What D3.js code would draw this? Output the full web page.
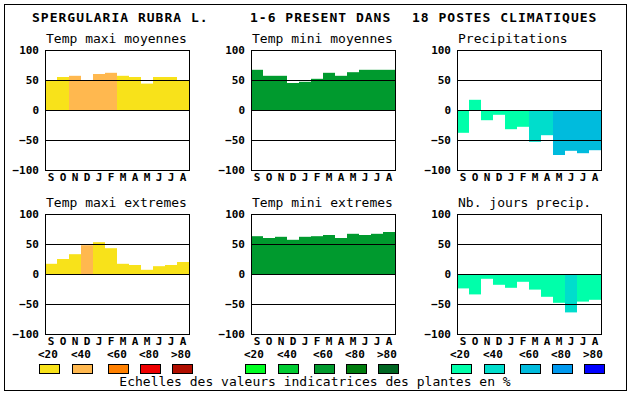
<!DOCTYPE html>
<html>
<head>
<meta charset="utf-8">
<script src="https://cdn.jsdelivr.net/npm/d3@7"></script>
<style>
  body { margin: 0; background: #fff; }
  svg { display: block; }
  text { font-family: "DejaVu Sans Mono", monospace; fill: #000; }
</style>
</head>
<body>
<svg id="chart" width="630" height="394"></svg>
<script>
// month ticks (september -> august)
const months = ["S", "O", "N", "D", "J", "F", "M", "A", "M", "J", "J", "A"];
const yTicks = [100, 50, 0, -50, -100];

// values, class = colour index on the scale below
const tmaxMoy = [50, 55, 57, 50, 60, 62, 57, 55, 44, 55, 55, 50];
const tmaxMoyCls = [0, 0, 1, 1, 1, 1, 0, 0, 0, 0, 0, 0];
const tminMoy = [67, 57, 57, 45, 47, 52, 62, 57, 63, 67, 67, 67];
const tminMoyCls = [2, 2, 2, 2, 2, 2, 2, 2, 2, 2, 2, 2];
const precip = [-38, 17, -17, -8, -32, -28, -53, -42, -75, -68, -72, -67];
const precipCls = [0, 0, 0, 0, 0, 0, 1, 1, 2, 2, 2, 2];
const tmaxExt = [17, 25, 33, 48, 53, 43, 17, 15, 7, 13, 15, 20];
const tmaxExtCls = [0, 0, 0, 1, 0, 0, 0, 0, 0, 0, 0, 0];
const tminExt = [63, 60, 62, 57, 62, 63, 65, 60, 67, 65, 67, 70];
const tminExtCls = [2, 2, 2, 2, 2, 2, 2, 2, 2, 2, 2, 2];
const nbJours = [-24, -34, -8, -18, -23, -13, -26, -38, -48, -64, -46, -43];
const nbJoursCls = [0, 0, 0, 0, 0, 0, 0, 0, 0, 1, 0, 0];

// colour scales
const scaleLabels = ["<20", "<40", "<60", "<80", ">80"];
const warmColors = ["#f8e21a", "#ffb84f", "#ff8000", "#ee0000", "#b00e00"];
const greenColors = ["#00ff22", "#00cc33", "#009a2e", "#007d0e", "#006622"];
const blueColors = ["#00ffaa", "#00ddcc", "#00bbdd", "#0099ee", "#0000ff"];

const svg = d3.select("#chart");

svg.append("rect")
  .attr("x", 4.5).attr("y", 4.5)
  .attr("width", 622).attr("height", 386)
  .attr("fill", "#fff").attr("stroke", "#000");

// main title in three pieces
const titleParts = [
  { x: 32, t: "SPERGULARIA RUBRA L." },
  { x: 250, t: "1-6 PRESENT DANS" },
  { x: 412, t: "18 POSTES CLIMATIQUES" }
];
svg.selectAll(".title")
  .data(titleParts)
  .enter().append("text")
  .attr("class", "title")
  .attr("x", d => d.x)
  .attr("y", 22)
  .style("font-size", "13px")
  .style("font-weight", "bold")
  .style("letter-spacing", "1px")
  .text(d => d.t);

const panelW = 144, panelH = 120;
const colX = [45, 251, 457];
const rowY = [50, 214];

const x = d3.scaleBand().domain(d3.range(12)).range([0, panelW]).padding(0);
const y = d3.scaleLinear().domain([-100, 100]).range([panelH, 0]);

const panels = [
  { title: "Temp maxi moyennes", vals: tmaxMoy, cls: tmaxMoyCls, colors: warmColors, col: 0, row: 0 },
  { title: "Temp mini moyennes", vals: tminMoy, cls: tminMoyCls, colors: greenColors, col: 1, row: 0 },
  { title: "Precipitations", vals: precip, cls: precipCls, colors: blueColors, col: 2, row: 0 },
  { title: "Temp maxi extremes", vals: tmaxExt, cls: tmaxExtCls, colors: warmColors, col: 0, row: 1 },
  { title: "Temp mini extremes", vals: tminExt, cls: tminExtCls, colors: greenColors, col: 1, row: 1 },
  { title: "Nb. jours precip.", vals: nbJours, cls: nbJoursCls, colors: blueColors, col: 2, row: 1 }
];

panels.forEach(p => {
  const g = svg.append("g")
    .attr("transform", "translate(" + colX[p.col] + "," + rowY[p.row] + ")");

  g.append("text")
    .attr("x", 1)
    .attr("y", -7)
    .style("font-size", "13px")
    .text(p.title);

  // bars
  g.selectAll(".bar")
    .data(p.vals)
    .enter().append("rect")
    .attr("class", "bar")
    .attr("x", (d, i) => x(i))
    .attr("width", x.bandwidth())
    .attr("y", d => y(Math.max(0, d)))
    .attr("height", d => Math.abs(y(d) - y(0)))
    .attr("fill", (d, i) => p.colors[p.cls[i]]);

  // gridlines at 50, 0, -50
  g.selectAll(".grid")
    .data([50, 0, -50])
    .enter().append("line")
    .attr("x1", 0).attr("x2", panelW)
    .attr("y1", d => Math.round(y(d)) + 0.5)
    .attr("y2", d => Math.round(y(d)) + 0.5)
    .attr("stroke", "#000");

  g.append("rect")
    .attr("x", 0.5).attr("y", 0.5)
    .attr("width", panelW).attr("height", panelH)
    .attr("fill", "none").attr("stroke", "#000");

  // y axis labels
  const ya = g.append("g")
    .call(d3.axisLeft(y).tickValues(yTicks).tickSize(0).tickPadding(6));
  ya.select(".domain").remove();
  ya.selectAll("text")
    .attr("dy", null)
    .attr("dominant-baseline", "central")
    .style("font-family", "'DejaVu Sans Mono', monospace")
    .style("font-size", "11px")
    .style("font-weight", "bold");

  // month labels
  const xa = g.append("g")
    .attr("transform", "translate(0," + panelH + ")")
    .call(d3.axisBottom(x).tickFormat(i => months[i]).tickSize(0));
  xa.select(".domain").remove();
  xa.selectAll("text")
    .attr("dy", null)
    .attr("y", 7.5)
    .attr("dominant-baseline", "central")
    .style("font-family", "'DejaVu Sans Mono', monospace")
    .style("font-size", "11px")
    .style("font-weight", "bold");
});

// legend swatches under each column
const swatchOff = [-6, 27, 63, 95, 127];
[warmColors, greenColors, blueColors].forEach((cols, c) => {
  const lg = svg.append("g").attr("transform", "translate(" + colX[c] + ",0)");
  lg.selectAll(".lab")
    .data(scaleLabels)
    .enter().append("text")
    .attr("x", (d, i) => swatchOff[i] - 1)
    .attr("y", 354)
    .attr("dominant-baseline", "central")
    .style("font-size", "11px")
    .style("font-weight", "bold")
    .text(d => d);
  lg.selectAll(".sw")
    .data(cols)
    .enter().append("rect")
    .attr("x", (d, i) => swatchOff[i] + 0.5)
    .attr("y", 364.5)
    .attr("width", 20).attr("height", 9)
    .attr("fill", d => d)
    .attr("stroke", "#000");
});

svg.append("text")
  .attr("x", 315)
  .attr("y", 386)
  .attr("text-anchor", "middle")
  .style("font-size", "13px")
  .text("Echelles des valeurs indicatrices des plantes en %");
</script>
</body>
</html>
